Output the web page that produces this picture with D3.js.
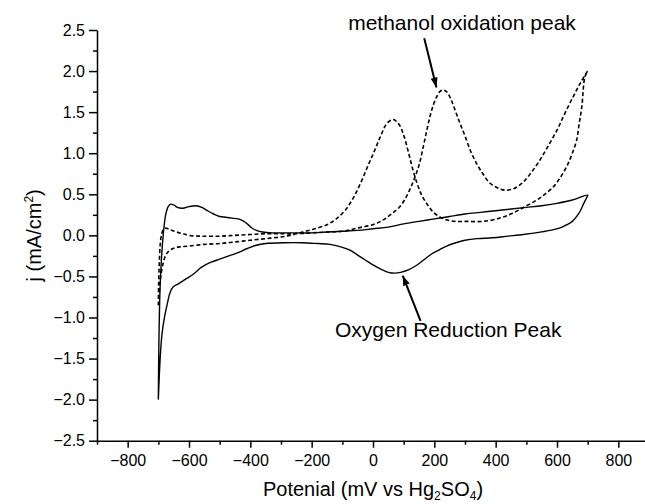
<!DOCTYPE html>
<html>
<head>
<meta charset="utf-8">
<script src="https://cdn.jsdelivr.net/npm/d3@7"></script>
<style>
    body { margin: 0; background: #fff; }
    svg { display: block; font-family: "Liberation Sans", Arial, sans-serif; }
    .axis path, .axis line { stroke: #000; stroke-width: 1.5; }
    .axis text { font-size: 16px; fill: #000; }
</style>
</head>
<body>
<div id="chart"></div>
<script>
// Solid curve (without methanol), forward scan then reverse scan
const solidFwdV = [-700,-699,-697,-694,-690,-686,-681,-675,-668,-660,-650,-638,-620,-600,-578,-558,-540,-520,-500,-480,-460,-440,-425,-410,-395,-380,-360,-330,-290,-250,-200,-150,-100,-50,0,50,100,150,200,250,300,350,400,450,500,550,600,650,700];
const solidFwdJ = [-2.0,-1.55,-1.05,-0.6,-0.3,-0.08,0.12,0.27,0.35,0.38,0.37,0.34,0.33,0.35,0.36,0.34,0.30,0.26,0.23,0.22,0.21,0.20,0.18,0.14,0.09,0.06,0.04,0.03,0.03,0.03,0.03,0.04,0.05,0.06,0.08,0.10,0.14,0.17,0.20,0.23,0.26,0.28,0.30,0.32,0.34,0.36,0.39,0.43,0.49];
const solidRevV = [697,686,675,664,650,632,610,577,530,490,440,390,340,300,270,240,215,190,165,140,115,90,72,50,25,0,-25,-50,-75,-105,-140,-180,-230,-290,-350,-380,-410,-440,-470,-500,-530,-560,-585,-610,-635,-652,-662,-670,-680,-688,-694,-700];
const solidRevJ = [0.46,0.38,0.29,0.23,0.17,0.13,0.09,0.06,0.03,0.01,-0.01,-0.03,-0.04,-0.06,-0.09,-0.13,-0.18,-0.23,-0.30,-0.37,-0.42,-0.45,-0.46,-0.45,-0.41,-0.36,-0.30,-0.24,-0.18,-0.14,-0.11,-0.10,-0.09,-0.09,-0.10,-0.12,-0.16,-0.21,-0.25,-0.29,-0.33,-0.39,-0.47,-0.53,-0.59,-0.63,-0.70,-0.82,-1.0,-1.2,-1.5,-2.0];

// Dashed curve (with methanol), forward scan then reverse scan
const methFwdV = [-700,-699,-697,-694,-690,-684,-677,-668,-655,-640,-620,-600,-560,-500,-450,-400,-350,-300,-250,-200,-150,-100,-50,0,34,60,88,110,125,140,152,164,175,186,197,208,218,228,240,255,270,285,300,320,340,360,380,405,430,460,490,515,545,570,600,625,653,677,700];
const methFwdJ = [-0.85,-0.6,-0.35,-0.12,0.0,0.07,0.09,0.08,0.06,0.04,0.02,0.0,-0.01,-0.01,0.0,0.01,0.02,0.02,0.02,0.03,0.04,0.05,0.09,0.13,0.19,0.26,0.35,0.48,0.60,0.74,0.88,1.08,1.27,1.45,1.59,1.69,1.75,1.77,1.75,1.65,1.50,1.35,1.21,1.01,0.86,0.74,0.64,0.58,0.55,0.57,0.65,0.76,0.92,1.08,1.28,1.48,1.69,1.86,2.0];
const methRevV = [691,681,672,664,648,632,610,588,560,534,496,455,414,360,306,270,250,225,200,180,160,145,130,115,100,85,66,45,25,5,-15,-40,-65,-90,-120,-150,-190,-230,-270,-300,-350,-400,-450,-500,-550,-600,-630,-652,-668,-678,-685,-690,-695,-700];
const methRevJ = [1.93,1.57,1.35,1.16,0.98,0.84,0.70,0.59,0.50,0.43,0.35,0.27,0.21,0.17,0.17,0.17,0.18,0.21,0.27,0.36,0.48,0.62,0.80,1.02,1.22,1.35,1.41,1.36,1.21,1.03,0.86,0.64,0.45,0.31,0.20,0.13,0.08,0.04,0.0,-0.02,-0.04,-0.06,-0.08,-0.10,-0.11,-0.13,-0.14,-0.16,-0.20,-0.26,-0.35,-0.45,-0.6,-0.85];

// Tick values
const xMajorTicks = [-800,-600,-400,-200,0,200,400,600,800];
const xMinorTicks = [-900,-700,-500,-300,-100,100,300,500,700,900];
const yMajorTicks = [-2.5,-2.0,-1.5,-1.0,-0.5,0.0,0.5,1.0,1.5,2.0,2.5];
const yMinorTicks = [-2.25,-1.75,-1.25,-0.75,-0.25,0.25,0.75,1.25,1.75,2.25];

// Annotations (in data units)
const notes = [
    {text: "methanol oxidation peak", x: -81, y: 2.5, from: [167, 2.40], to: [207, 1.80]},
    {text: "Oxygen Reduction Peak", x: -124, y: -1.24, from: [155, -1.04], to: [97, -0.49]}
];

const width = 645, height = 504;

const svg = d3.select("#chart").append("svg")
    .attr("width", width)
    .attr("height", height);

const x = d3.scaleLinear().domain([-900, 900]).range([97, 649]);
const y = d3.scaleLinear().domain([-2.5, 2.5]).range([440.7, 30]);

// arrow head
svg.append("defs").append("marker")
    .attr("id", "arrow")
    .attr("viewBox", "0 0 10 10")
    .attr("refX", 10)
    .attr("refY", 5)
    .attr("markerWidth", 10)
    .attr("markerHeight", 10)
    .attr("markerUnits", "userSpaceOnUse")
    .attr("orient", "auto")
    .append("path")
    .attr("d", "M0,1.5 L10,5 L0,8.5 Z")
    .attr("fill", "#000");

// Axes
const xAxisG = svg.append("g")
    .attr("class", "axis")
    .attr("transform", `translate(0,${y(-2.5)})`);
xAxisG.call(d3.axisBottom(x).tickValues(xMinorTicks).tickSize(4).tickSizeOuter(0).tickFormat(""));
xAxisG.append("g").call(d3.axisBottom(x).tickValues(xMajorTicks).tickSize(7).tickSizeOuter(0).tickPadding(7).tickFormat(d3.format("d")))
    .select(".domain").remove();

const yAxisG = svg.append("g")
    .attr("class", "axis")
    .attr("transform", `translate(${x(-900)},0)`);
yAxisG.call(d3.axisLeft(y).tickValues(yMinorTicks).tickSize(4).tickSizeOuter(0).tickFormat(""));
yAxisG.append("g").call(d3.axisLeft(y).tickValues(yMajorTicks).tickSize(8).tickSizeOuter(0).tickPadding(4).tickFormat(d3.format(".1f")))
    .select(".domain").remove();

svg.selectAll(".axis text").attr("font-family", "Liberation Sans, Arial, sans-serif");

// Curves
const line = d3.line()
    .x(d => x(d[0]))
    .y(d => y(d[1]))
    .curve(d3.curveCatmullRom.alpha(0.5));

const solidData = solidFwdV.map((v, i) => [v, solidFwdJ[i]])
    .concat(solidRevV.map((v, i) => [v, solidRevJ[i]]));
const methData = methFwdV.map((v, i) => [v, methFwdJ[i]])
    .concat(methRevV.map((v, i) => [v, methRevJ[i]]));

svg.append("path")
    .datum(solidData)
    .attr("d", line)
    .attr("fill", "none")
    .attr("stroke", "#000")
    .attr("stroke-width", 1.4);

svg.append("path")
    .datum(methData)
    .attr("d", line)
    .attr("fill", "none")
    .attr("stroke", "#000")
    .attr("stroke-width", 1.6)
    .attr("stroke-dasharray", "4,2.5");

// Annotations
notes.forEach(n => {
    svg.append("text")
        .attr("x", x(n.x))
        .attr("y", y(n.y))
        .attr("font-size", 21)
        .text(n.text);
    svg.append("line")
        .attr("x1", x(n.from[0]))
        .attr("y1", y(n.from[1]))
        .attr("x2", x(n.to[0]))
        .attr("y2", y(n.to[1]))
        .attr("stroke", "#000")
        .attr("stroke-width", 2)
        .attr("marker-end", "url(#arrow)");
});

// Axis titles
const xTitle = svg.append("text")
    .attr("x", x(0))
    .attr("y", 496)
    .attr("text-anchor", "middle")
    .attr("font-size", 20);
xTitle.append("tspan").text("Potenial (mV vs Hg");
xTitle.append("tspan").attr("font-size", 12).attr("dy", 4).text("2");
xTitle.append("tspan").attr("dy", -4).text("SO");
xTitle.append("tspan").attr("font-size", 12).attr("dy", 4).text("4");
xTitle.append("tspan").attr("dy", -4).text(")");

const yTitle = svg.append("text")
    .attr("transform", `translate(41,${y(0)}) rotate(-90)`)
    .attr("text-anchor", "middle")
    .attr("font-size", 20);
yTitle.append("tspan").text("j (mA/cm");
yTitle.append("tspan").attr("font-size", 12).attr("dy", -8).text("2");
yTitle.append("tspan").attr("dy", 8).text(")");
</script>
</body>
</html>
